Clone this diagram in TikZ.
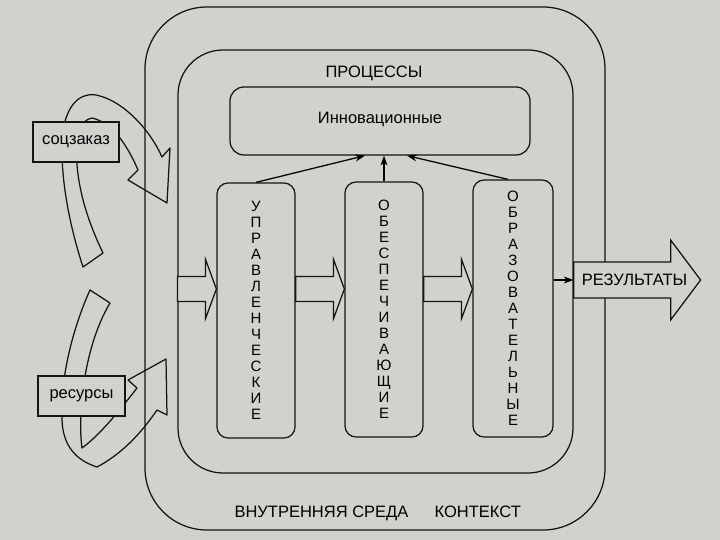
\documentclass[tikz,border=0pt]{standalone}
\usepackage{fontspec}
\setmainfont{Liberation Sans}
\usepackage{xcolor}
\usepackage{tikz}
\usetikzlibrary{arrows.meta,positioning,calc}
\definecolor{paper}{RGB}{209,209,206}
\definecolor{ink}{RGB}{20,20,20}
\newcommand{\flowarrow}[3]{%
  \coordinate (fy) at (0,#3);
  \path (#1|-fy) coordinate (fs) (#2|-fy) coordinate (ft);
  \draw[flowarr] ($(fs)+(0,-12.5)$) -- ($(ft)+(-11,-12.5)$) -- ($(ft)+(-11,-30)$)
    -- (ft) -- ($(ft)+(-11,30)$) -- ($(ft)+(-11,12.5)$) -- ($(fs)+(0,12.5)$) -- cycle;}

\begin{document}
\begin{tikzpicture}[x=1pt,y=-1pt,>={Stealth[length=10pt,width=7pt]},line width=1.25pt,
  bigtext/.style={font=\fontsize{16.5}{19}\selectfont,inner sep=0pt},
  shell/.style={draw=ink,rounded corners=#1,inner sep=0pt},
  phase/.style={draw=ink,fill=paper,rounded corners=11pt,minimum width=78pt,
    minimum height=255pt,inner sep=0pt,align=center,font=\fontsize{15}{16}\selectfont},
  inbox/.style={draw=ink,fill=paper,minimum width=86pt,minimum height=40pt,
    inner sep=0pt,font=\fontsize{16.5}{19}\selectfont},
  flowarr/.style={draw=ink,fill=paper,line join=miter},
  bentarr/.style={draw=ink,fill=paper,line join=round}]
  \fill[paper] (0,0) rectangle (720,540);
  \useasboundingbox (0,0) rectangle (720,540);

  % incoming bent arrows
  \draw[bentarr] (83,267) .. controls (66,215) and (58,160) .. (64,125)
    .. controls (70,100) and (84,91) .. (100,96)
    .. controls (125,103) and (150,130) .. (162,157)
    -- (170,148) -- (167,203) -- (128,180) -- (138,170)
    .. controls (125,140) and (110,122) .. (92,118)
    .. controls (80,120) and (76,135) .. (77,165)
    .. controls (80,200) and (92,230) .. (103,253) -- cycle;
  \draw[bentarr] (90,290) .. controls (72,330) and (60,380) .. (62,420)
    .. controls (63,445) and (75,460) .. (97,467)
    .. controls (120,455) and (140,435) .. (157,410)
    -- (167,415) -- (166,359) -- (128,380) -- (137,388)
    .. controls (120,410) and (100,435) .. (82,448)
    .. controls (78,420) and (82,350) .. (110,303) -- cycle;

  \node[shell=62pt,minimum width=460pt,minimum height=523pt] (ctx) at (375,268.5) {};
  \node[shell=45pt,minimum width=395pt,minimum height=423pt] (env) at (375.5,261.5) {};

  \node[inbox] (soc) at (76,142) {соцзаказ};
  \node[inbox,minimum width=87pt] (res) at (81.5,396) {ресурсы};

  \node[draw=ink,fill=paper,rounded corners=14pt,minimum width=300pt,minimum height=68pt,
    font=\fontsize{16.5}{19}\selectfont] (innov) at (380,121) {\raisebox{6pt}{Инновационные}};
  \node[phase] (upr) at (256,310.5) {У\\П\\Р\\А\\В\\Л\\Е\\Н\\Ч\\Е\\С\\К\\И\\Е};
  \node[phase] (obes) at (384,309.5) {О\\Б\\Е\\С\\П\\Е\\Ч\\И\\В\\А\\Ю\\Щ\\И\\Е};
  \node[phase,minimum width=80pt,minimum height=257pt] (obr) at (513,308.5)
    {О\\Б\\Р\\А\\З\\О\\В\\А\\Т\\Е\\Л\\Ь\\Н\\Ы\\Е};

  \flowarrow{env.west}{upr.west}{289}
  \flowarrow{upr.east}{obes.west}{289}
  \flowarrow{obes.east}{obr.west}{289}

  % results
  \coordinate (ry) at (0,280);
  \path (env.east|-ry) coordinate (rs);
  \draw[flowarr] ($(rs)+(0,-18)$) -- ($(rs)+(97,-18)$) -- ($(rs)+(97,-40)$)
    -- ($(rs)+(127,0)$) -- ($(rs)+(97,40)$) -- ($(rs)+(97,18)$) -- ($(rs)+(0,18)$) -- cycle;
  \node[bigtext] (out) at ($(rs)+(61,0)$) {РЕЗУЛЬТАТЫ};
  \draw[->] (obr.east|-rs) -- (rs);

  \draw[->] (upr.north) -- (innov.south-|365,0);
  \draw[->] (obes.north) -- (obes.north|-innov.south);
  \draw[->] (obr.north-|508,0) -- (innov.south-|407,0);

  \node[bigtext] (proc) at (374,73) {ПРОЦЕССЫ};
  \node[bigtext] (envlbl) at (321.5,513) {ВНУТРЕННЯЯ СРЕДА};
  \node[bigtext,base right=25pt of envlbl] (ctxlbl) {КОНТЕКСТ};
\end{tikzpicture}
\end{document}
